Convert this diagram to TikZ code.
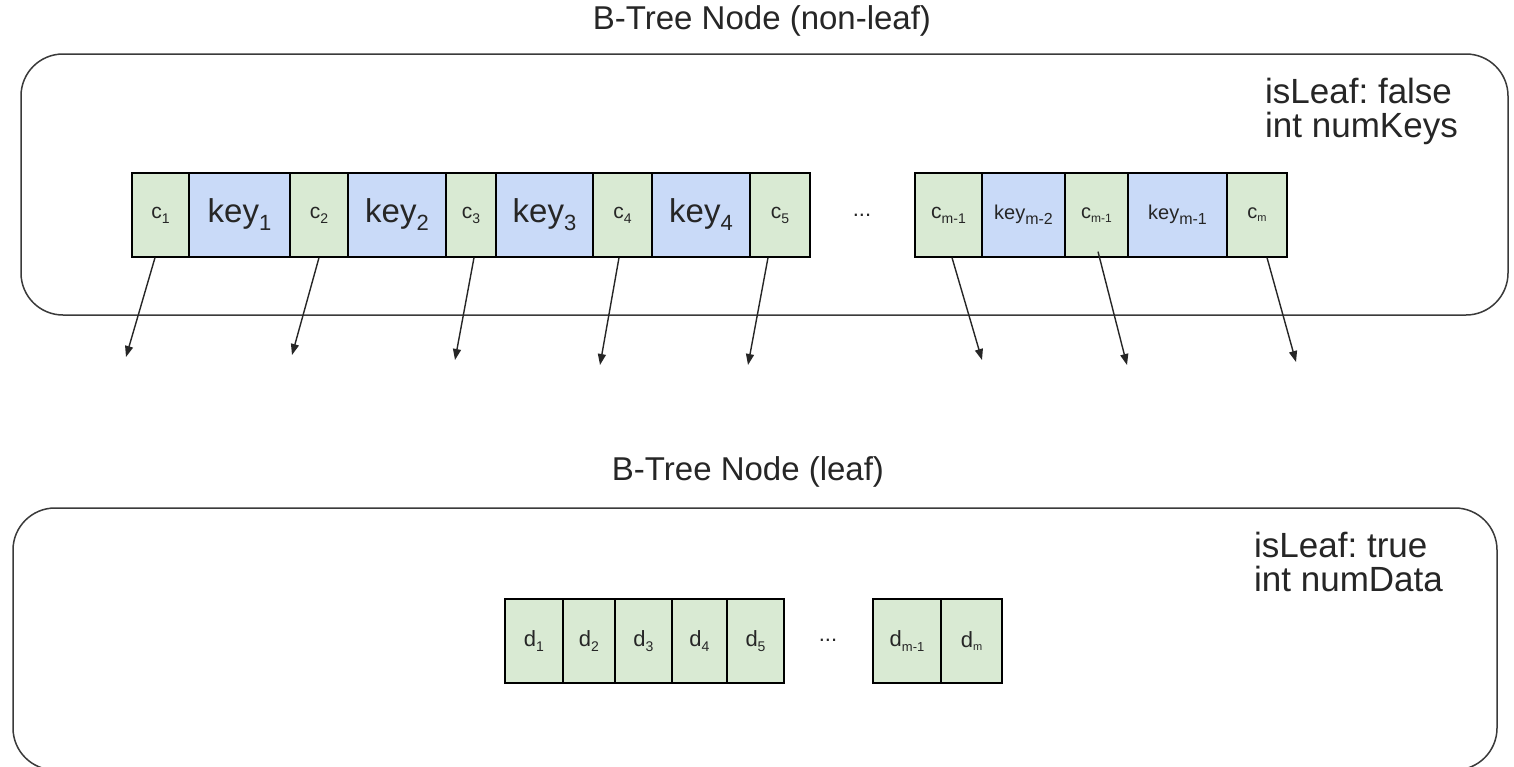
\documentclass[tikz,border=0pt]{standalone}
\usepackage{fontspec}
\setmainfont{Liberation Sans}
\usetikzlibrary{arrows.meta}
\definecolor{cellgreen}{HTML}{D9EAD3}
\definecolor{cellblue}{HTML}{C9DAF8}
\definecolor{framegray}{HTML}{3A3A3A}

% lowered subscript: size, drop, text
\newcommand\lsub[3]{\raisebox{-#2}{\fontsize{#1}{#1}\selectfont #3}}

\begin{document}
\frenchspacing
\begin{tikzpicture}[x=1pt,y=-1pt,
  cell/.style={draw=black, line width=1.3pt, inner sep=0pt, minimum height=84pt, anchor=center},
  gcell/.style={cell, fill=cellgreen},
  bcell/.style={cell, fill=cellblue},
  nodebox/.style={draw=framegray, line width=1.5pt, rounded corners=42pt, inner sep=0pt},
  ptr/.style={draw=black!85, line width=1.4pt, -{Triangle[length=11pt,width=8pt]}},
  ctext/.style={font=\fontsize{21}{24}\selectfont, text=black!85},
  ktext/.style={font=\fontsize{33}{36}\selectfont, text=black!85},
  mtext/.style={font=\fontsize{20}{23}\selectfont, text=black!85},
  dtext/.style={font=\fontsize{22}{25}\selectfont, text=black!85},
  heading/.style={font=\fontsize{33}{36}\selectfont, text=black!85},
  info/.style={font=\fontsize{35}{38}\selectfont, anchor=base west, inner sep=0pt, text=black!85},
  dots/.style={font=\fontsize{22}{22}\selectfont, text=black!85}
]
\useasboundingbox (0,0) rectangle (1514,766);
\fill[white] (0,0) rectangle (1514,766);

% ---------- non-leaf node ----------
\node[heading] (title1) at (762,21) {B-Tree Node (non-leaf)};
\node[nodebox, minimum width=1487pt, minimum height=261pt] (inner) at (764.5,184.5) {};
\node[info] (flag1) at (1265,103) {isLeaf: false};
\node[info] (count1) at (1265,137) {int numKeys};

\node[gcell, ctext, minimum width=57pt] (c1) at (160.5,215) {c\lsub{14pt}{5pt}{1}};
\node[bcell, ktext, minimum width=101pt] (k1) at (239.5,215) {key\lsub{22pt}{8pt}{1}};
\node[gcell, ctext, minimum width=58pt] (c2) at (319,215) {c\lsub{14pt}{5pt}{2}};
\node[bcell, ktext, minimum width=98pt] (k2) at (397,215) {key\lsub{22pt}{8pt}{2}};
\node[gcell, ctext, minimum width=50pt] (c3) at (471,215) {c\lsub{14pt}{5pt}{3}};
\node[bcell, ktext, minimum width=97pt] (k3) at (544.5,215) {key\lsub{22pt}{8pt}{3}};
\node[gcell, ctext, minimum width=59pt] (c4) at (622.5,215) {c\lsub{14pt}{5pt}{4}};
\node[bcell, ktext, minimum width=98pt] (k4) at (701,215) {key\lsub{22pt}{8pt}{4}};
\node[gcell, ctext, minimum width=60pt] (c5) at (780,215) {c\lsub{14pt}{5pt}{5}};

\node[dots] (gap1) at (862,215) {...};

\node[gcell, ctext, minimum width=67pt] (cma) at (948.5,215) {c\lsub{14pt}{5pt}{m-1}};
\node[bcell, mtext, minimum width=83pt] (kmb) at (1023.5,215) {key\lsub{16pt}{5pt}{m-2}};
\node[gcell, mtext, minimum width=63pt] (cmb) at (1096.5,215) {c\lsub{12pt}{4pt}{m-1}};
\node[bcell, mtext, minimum width=99pt] (kma) at (1177.5,215) {key\lsub{16pt}{5pt}{m-1}};
\node[gcell, mtext, minimum width=60pt] (cm) at (1257,215) {c\lsub{11pt}{3pt}{m}};

% child pointer ends
\coordinate (p1) at (126,357);
\coordinate (p2) at (292,355);
\coordinate (p3) at (455,360);
\coordinate (p4) at (600,365);
\coordinate (p5) at (748,365);
\coordinate (p6) at (982,360);
\coordinate (p7) at (1127,365);
\coordinate (p8) at (1296,362);

\draw[ptr] ([xshift=-5.5pt]c1.south) -- (p1);
\draw[ptr] (c2.south) -- (p2);
\draw[ptr] ([xshift=3pt]c3.south) -- (p3);
\draw[ptr] ([xshift=-3.5pt]c4.south) -- (p4);
\draw[ptr] ([xshift=-12pt]c5.south) -- (p5);
\draw[ptr] ([xshift=3.5pt]cma.south) -- (p6);
\draw[ptr] ([xshift=1.5pt,yshift=6pt]cmb.south) -- (p7);
\draw[ptr] ([xshift=10pt]cm.south) -- (p8);

% ---------- leaf node ----------
\node[heading] (title2) at (748,472) {B-Tree Node (leaf)};
\node[nodebox, minimum width=1484pt, minimum height=262pt] (leaf) at (755,639) {};
\node[info] (flag2) at (1254,557) {isLeaf: true};
\node[info] (count2) at (1254,591) {int numData};

\node[gcell, dtext, minimum width=58pt] (d1) at (534,641) {d\lsub{14pt}{5pt}{1}};
\node[gcell, dtext, minimum width=52pt] (d2) at (589,641) {d\lsub{14pt}{5pt}{2}};
\node[gcell, dtext, minimum width=57pt] (d3) at (643.5,641) {d\lsub{14pt}{5pt}{3}};
\node[gcell, dtext, minimum width=55pt] (d4) at (699.5,641) {d\lsub{14pt}{5pt}{4}};
\node[gcell, dtext, minimum width=57pt] (d5) at (755.5,641) {d\lsub{14pt}{5pt}{5}};

\node[dots] (gap2) at (828,640) {...};

\node[gcell, dtext, minimum width=68pt] (dma) at (907,641) {d\lsub{13pt}{5pt}{m-1}};
\node[gcell, dtext, minimum width=61pt] (dm) at (971.5,641) {d\lsub{11pt}{3pt}{m}};
\end{tikzpicture}
\end{document}
